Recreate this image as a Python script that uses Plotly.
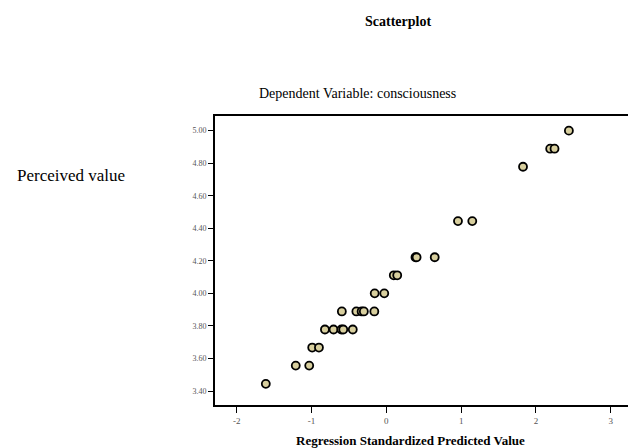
import plotly.graph_objects as go

# Data
pred_std = [-1.61, -1.21, -1.03, -0.99, -0.90,
            -0.82, -0.705, -0.60, -0.575, -0.448,
            -0.594, -0.40, -0.33, -0.30, -0.16,
            -0.155, -0.027,
            0.10, 0.146,
            0.39, 0.405, 0.647,
            0.958, 1.149,
            1.827,
            2.19, 2.248,
            2.44]
perceived = [3.444, 3.556, 3.556, 3.667, 3.667,
             3.778, 3.778, 3.778, 3.778, 3.778,
             3.889, 3.889, 3.889, 3.889, 3.889,
             4.000, 4.000,
             4.111, 4.111,
             4.222, 4.222, 4.222,
             4.444, 4.444,
             4.778,
             4.889, 4.889,
             5.000]

y_ticks = [3.40, 3.60, 3.80, 4.00, 4.20, 4.40, 4.60, 4.80, 5.00]
y_tick_labels = ["3.40", "3.60", "3.80", "4.00", "4.20", "4.40", "4.60", "4.80", "5.00"]
x_ticks = [-2, -1, 0, 1, 2, 3]
x_tick_labels = ["-2", "-1", "0", "1", "2", "3"]

SERIF = "Liberation Serif, Times New Roman, serif"

fig = go.Figure()
fig.add_trace(go.Scatter(
    x=pred_std, y=perceived, mode="markers",
    marker=dict(size=8, color="#d8cf9e", line=dict(color="black", width=1.8)),
    showlegend=False, hoverinfo="x+y",
))

# The page body has an 8px margin, so the figure is drawn 8px smaller and offset.
W, H = 628, 440
PL, PR, PT, PB = 207, 3, 108, 43
pw = W - PL - PR
ph = H - PT - PB


def px(xw):
    return (xw - 8 - PL) / pw


def py(yw):
    return (H - PB - (yw - 8)) / ph


fig.update_layout(
    width=W, height=H,
    margin=dict(l=PL, r=PR, t=PT, b=PB),
    paper_bgcolor="white", plot_bgcolor="white",
    font=dict(family=SERIF, color="black"),
    xaxis=dict(range=[-2.289, 3.27], tickvals=x_ticks, ticktext=x_tick_labels,
               ticks="outside", ticklen=6, tickwidth=1.2, tickcolor="black",
               tickfont=dict(size=9, color="#555555", family=SERIF),
               showgrid=False, zeroline=False,
               showline=True, linecolor="black", linewidth=1.6, mirror=True),
    yaxis=dict(range=[3.314, 5.09], tickvals=y_ticks, ticktext=y_tick_labels,
               ticks="outside", ticklen=5, tickwidth=1.2, tickcolor="black",
               tickfont=dict(size=8, color="#555555", family=SERIF),
               showgrid=False, zeroline=False,
               showline=True, linecolor="black", linewidth=1.6, mirror=True),
    annotations=[
        dict(text="<b>Scatterplot</b>", xref="paper", yref="paper",
             x=px(399), y=py(21),
             xanchor="center", yanchor="middle", showarrow=False,
             font=dict(size=14, family=SERIF)),
        dict(text="Dependent Variable: consciousness", xref="paper", yref="paper",
             x=px(358), y=py(94),
             xanchor="center", yanchor="middle", showarrow=False,
             font=dict(size=14, family=SERIF)),
        dict(text="Perceived value", xref="paper", yref="paper",
             x=px(14), y=py(175),
             xanchor="left", yanchor="middle", showarrow=False,
             font=dict(size=17, family=SERIF)),
        dict(text="<b>Regression Standardized Predicted Value</b>", xref="paper", yref="paper",
             x=px(411), y=py(440),
             xanchor="center", yanchor="middle", showarrow=False,
             font=dict(size=13, family=SERIF)),
    ],
)

fig.write_html("out.html")
